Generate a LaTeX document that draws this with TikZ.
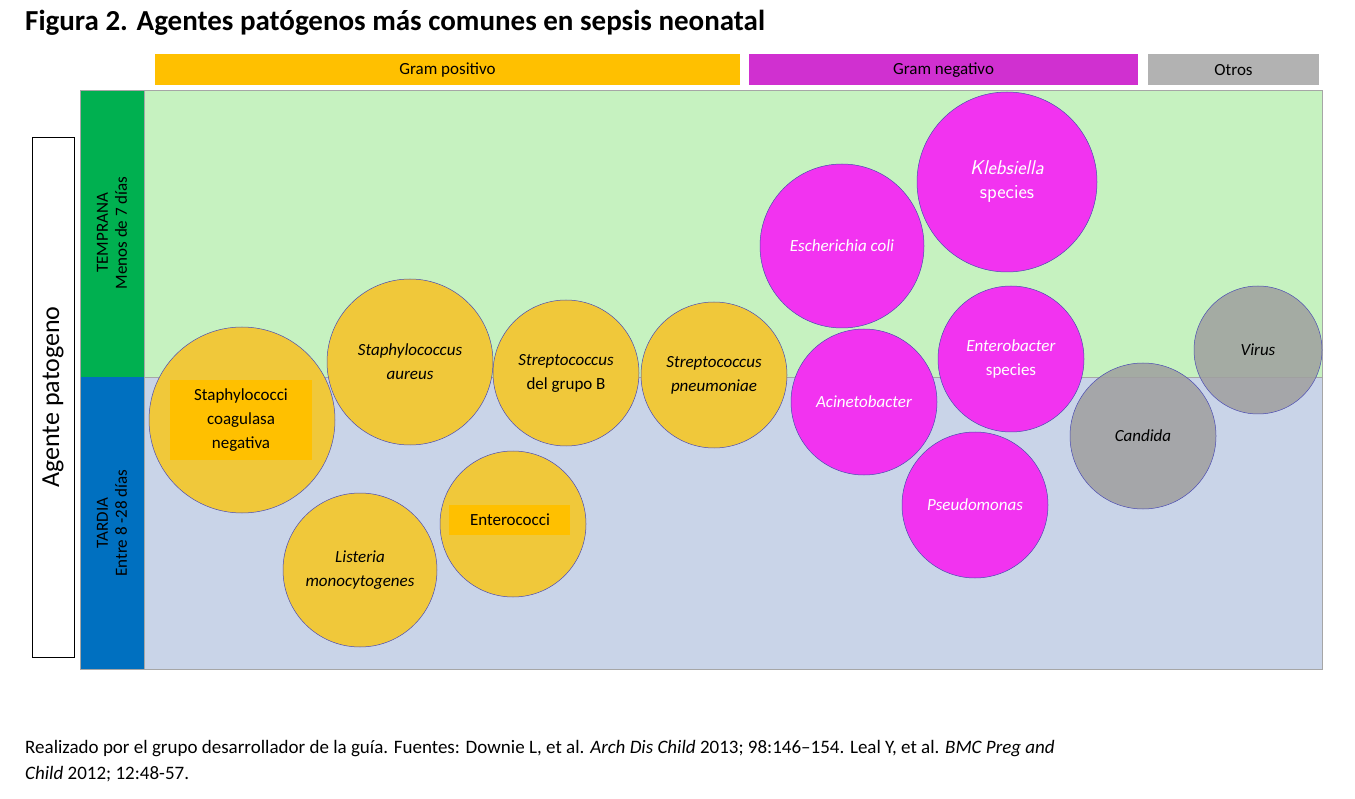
\documentclass[tikz,border=0pt]{standalone}
\usepackage{fontspec}
\setmainfont{Carlito}
\begin{document}
\begin{tikzpicture}[x=1pt,y=-1pt,
  gp/.style={circle,fill=ygold,draw=blue!40!gray,line width=0.5pt,align=center,inner sep=0pt,font=\fontsize{17}{20}\selectfont},
  gn/.style={circle,fill=mag,draw=blue!40!gray,line width=0.5pt,align=center,inner sep=0pt,text=white,font=\fontsize{17}{20}\selectfont\itshape},
  ot/.style={circle,fill=gray!75,fill opacity=0.85,text opacity=1,draw=blue!40!gray,line width=0.5pt,align=center,inner sep=0pt,font=\fontsize{17}{20}\selectfont\itshape},
  bar/.style={minimum height=31pt,inner sep=0pt,font=\fontsize{17}{20}\selectfont},
  lbl/.style={rotate=90,align=center,font=\fontsize{17}{19}\selectfont}]
\definecolor{ygold}{HTML}{F0C83A}
\definecolor{orng}{HTML}{FFC000}
\definecolor{mag}{HTML}{F233F0}
\definecolor{magbar}{HTML}{D030D0}
\definecolor{lgreen}{HTML}{C6F2C0}
\definecolor{lblue}{HTML}{C9D4E8}
\definecolor{dgreen}{HTML}{00B050}
\definecolor{dblue}{HTML}{0070C0}
\useasboundingbox (0,0) rectangle (1355,799);
\fill[white] (0,0) rectangle (1355,799);
\node[anchor=base west,inner sep=0pt,font=\fontsize{29}{32}\selectfont\bfseries] (title) at (25,31) {Figura 2. Agentes patógenos más comunes en sepsis neonatal};
\node[bar,fill=orng,minimum width=585pt] (gp) at (447.5,70) {Gram positivo};
\node[bar,fill=magbar,minimum width=389pt] (gn) at (943.5,70) {Gram negativo};
\node[bar,fill=gray!60,minimum width=171pt] (ot) at (1233.5,70) {Otros};
\draw[fill=lgreen,draw=gray!70] (144,90) rectangle (1322,377);
\draw[fill=lblue,draw=gray!70] (144,377) rectangle (1322,669);
\fill[dgreen] (80,90) rectangle (144,377);
\fill[dblue] (80,377) rectangle (144,669);
\draw[gray!70] (80,90) rectangle (144,669);
\node[lbl] (temp) at (112,233) {TEMPRANA\\Menos de 7 días};
\node[lbl] (tard) at (112,523) {TARDIA\\Entre 8 -28 días};
\draw[black,fill=white] (32,137) rectangle (74,657);
\node[rotate=90,font=\fontsize{26}{28}\selectfont] (ap) at (53,397) {Agente patogeno};
\node[gp,minimum size=186pt] (c1) at (242,420) {};
\fill[orng] (170,380) rectangle (312,460);
\node[align=center,font=\fontsize{17}{24}\selectfont] (c1t) at (241,420) {Staphylococci\\coagulasa\\negativa};
\node[gp,minimum size=166pt,font=\fontsize{17}{24}\selectfont\itshape] (c2) at (410,362) {Staphylococcus\\aureus};
\node[gp,minimum size=146pt,font=\fontsize{17}{24}\selectfont] (c3) at (566,373) {\textit{Streptococcus}\\del grupo B};
\node[gp,minimum size=146pt,font=\fontsize{17}{24}\selectfont\itshape] (c4) at (714,375) {Streptococcus\\pneumoniae};
\node[gp,minimum size=154pt,font=\fontsize{17}{24}\selectfont\itshape] (c5) at (360,570) {Listeria\\monocytogenes};
\node[gp,minimum size=146pt] (c6) at (513,524) {};
\fill[orng] (449,505) rectangle (570,535);
\node[font=\fontsize{17}{20}\selectfont] (c6t) at (510,520) {Enterococci};
\node[gn,minimum size=164pt] (n1) at (842,246) {Escherichia coli};
\node[gn,minimum size=180pt,font=\fontsize{20}{24}\selectfont\sffamily] (n2) at (1007,182) {\textit{Klebsiella}\\species};
\node[gn,minimum size=146pt] (n3) at (864,402) {Acinetobacter};
\node[gn,minimum size=146pt,font=\fontsize{17}{24}\selectfont] (n4) at (1011,359) {\textit{Enterobacter}\\species};
\node[gn,minimum size=146pt] (n5) at (975,505) {Pseudomonas};
\node[ot,minimum size=146pt] (o1) at (1143,436) {Candida};
\node[ot,minimum size=128pt] (o2) at (1258,350) {Virus};
\node[anchor=base west,inner sep=0pt,font=\fontsize{19}{22}\selectfont] (f1) at (25,753) {Realizado por el grupo desarrollador de la guía. Fuentes: Downie L, et al. \textit{Arch Dis Child} 2013; 98:146--154. Leal Y, et al. \textit{BMC Preg and}};
\node[anchor=base west,inner sep=0pt,font=\fontsize{19}{22}\selectfont] (f2) at (25,779) {\textit{Child} 2012; 12:48-57.};
\end{tikzpicture}
\end{document}
